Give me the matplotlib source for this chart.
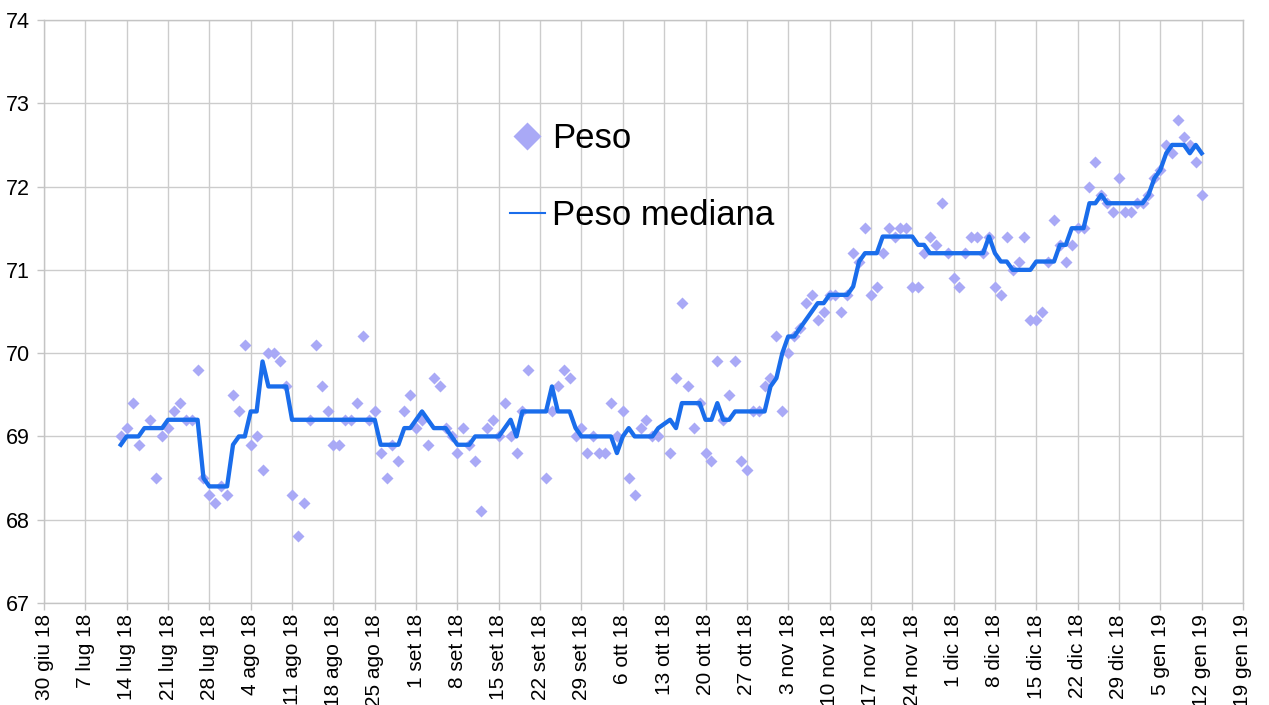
import numpy as np
import pandas as pd
import matplotlib
matplotlib.use("Agg")
import matplotlib.pyplot as plt

plt.rcParams['font.family'] = ['Liberation Sans', 'DejaVu Sans']

# daily values, 13 lug 2018 .. 12 gen 2019 (nan = no measurement)
nan = np.nan
peso = [
    69.0, 69.1, 69.4, 68.9, nan, 69.2, 68.5, 69.0, 69.1, 69.3,
    69.4, 69.2, 69.2, 69.8, 68.5, 68.3, 68.2, 68.4, 68.3, 69.5,
    69.3, 70.1, 68.9, 69.0, 68.6, 70.0, 70.0, 69.9, 69.6, 68.3,
    67.8, 68.2, 69.2, 70.1, 69.6, 69.3, 68.9, 68.9, 69.2, 69.2,
    69.4, 70.2, 69.2, 69.3, 68.8, 68.5, 68.9, 68.7, 69.3, 69.5,
    69.1, 69.2, 68.9, 69.7, 69.6, 69.1, 69.0, 68.8, 69.1, 68.9,
    68.7, 68.1, 69.1, 69.2, 69.0, 69.4, 69.0, 68.8, 69.3, 69.8,
    nan, nan, 68.5, 69.3, 69.6, 69.8, 69.7, 69.0, 69.1, 68.8,
    69.0, 68.8, 68.8, 69.4, 69.0, 69.3, 68.5, 68.3, 69.1, 69.2,
    69.0, 69.0, nan, 68.8, 69.7, 70.6, 69.6, 69.1, 69.4, 68.8,
    68.7, 69.9, 69.2, 69.5, 69.9, 68.7, 68.6, 69.3, 69.3, 69.6,
    69.7, 70.2, 69.3, 70.0, 70.2, 70.3, 70.6, 70.7, 70.4, 70.5,
    70.7, 70.7, 70.5, 70.7, 71.2, 71.1, 71.5, 70.7, 70.8, 71.2,
    71.5, 71.4, 71.5, 71.5, 70.8, 70.8, 71.2, 71.4, 71.3, 71.8,
    71.2, 70.9, 70.8, 71.2, 71.4, 71.4, 71.2, 71.4, 70.8, 70.7,
    71.4, 71.0, 71.1, 71.4, 70.4, 70.4, 70.5, 71.1, 71.6, 71.3,
    71.1, 71.3, 71.5, 71.5, 72.0, 72.3, 71.9, 71.8, 71.7, 72.1,
    71.7, 71.7, 71.8, 71.8, 71.9, 72.1, 72.2, 72.5, 72.4, 72.8,
    72.6, 72.5, 72.3, 71.9,
]
peso_mediana = [
    68.9, 69.0, 69.0, 69.0, 69.1, 69.1, 69.1, 69.1, 69.2, 69.2,
    69.2, 69.2, 69.2, 69.2, 68.5, 68.4, 68.4, 68.4, 68.4, 68.9,
    69.0, 69.0, 69.3, 69.3, 69.9, 69.6, 69.6, 69.6, 69.6, 69.2,
    69.2, 69.2, 69.2, 69.2, 69.2, 69.2, 69.2, 69.2, 69.2, 69.2,
    69.2, 69.2, 69.2, 69.2, 68.9, 68.9, 68.9, 68.9, 69.1, 69.1,
    69.2, 69.3, 69.2, 69.1, 69.1, 69.1, 69.0, 68.9, 68.9, 68.9,
    69.0, 69.0, 69.0, 69.0, 69.0, 69.1, 69.2, 69.0, 69.3, 69.3,
    69.3, 69.3, 69.3, 69.6, 69.3, 69.3, 69.3, 69.1, 69.0, 69.0,
    69.0, 69.0, 69.0, 69.0, 68.8, 69.0, 69.1, 69.0, 69.0, 69.0,
    69.0, 69.1, 69.15, 69.2, 69.1, 69.4, 69.4, 69.4, 69.4, 69.2,
    69.2, 69.4, 69.2, 69.2, 69.3, 69.3, 69.3, 69.3, 69.3, 69.3,
    69.6, 69.7, 70.0, 70.2, 70.2, 70.3, 70.4, 70.5, 70.6, 70.6,
    70.7, 70.7, 70.7, 70.7, 70.8, 71.1, 71.2, 71.2, 71.2, 71.4,
    71.4, 71.4, 71.4, 71.4, 71.4, 71.3, 71.3, 71.2, 71.2, 71.2,
    71.2, 71.2, 71.2, 71.2, 71.2, 71.2, 71.2, 71.4, 71.2, 71.1,
    71.1, 71.0, 71.0, 71.0, 71.0, 71.1, 71.1, 71.1, 71.1, 71.3,
    71.3, 71.5, 71.5, 71.5, 71.8, 71.8, 71.9, 71.8, 71.8, 71.8,
    71.8, 71.8, 71.8, 71.8, 71.9, 72.1, 72.2, 72.4, 72.5, 72.5,
    72.5, 72.4, 72.5, 72.4,
]
giorni = pd.date_range("2018-07-13", periods=len(peso), freq="D")

tick_date = pd.date_range("2018-06-30", "2019-01-19", freq="7D")
tick_labels = [
    "30 giu 18", "7 lug 18", "14 lug 18", "21 lug 18", "28 lug 18",
    "4 ago 18", "11 ago 18", "18 ago 18", "25 ago 18", "1 set 18",
    "8 set 18", "15 set 18", "22 set 18", "29 set 18", "6 ott 18",
    "13 ott 18", "20 ott 18", "27 ott 18", "3 nov 18", "10 nov 18",
    "17 nov 18", "24 nov 18", "1 dic 18", "8 dic 18", "15 dic 18",
    "22 dic 18", "29 dic 18", "5 gen 19", "12 gen 19", "19 gen 19",
]

fig = plt.figure(figsize=(12.69, 7.05), dpi=100)
ax = fig.add_axes([44 / 1269, 1 - 603 / 705, 1199 / 1269, 583 / 705])

ax.plot(giorni, peso, linestyle="none", marker="D", ms=6,
        color="#a9a9f6", mec="none", label="Peso", zorder=3)
ax.plot(giorni, peso_mediana, color="#1a6deb", lw=3.1,
        label="Peso mediana", zorder=4)

ax.set_xlim(tick_date[0], tick_date[-1])
ax.set_ylim(67, 74)
ax.set_xticks(tick_date)
ax.set_xticklabels(tick_labels, rotation=90, fontsize=15)
ax.set_yticks(range(67, 75))
ax.tick_params(axis="y", labelsize=15.5, pad=5)
ax.tick_params(axis="x", pad=3)
ax.tick_params(which="both", length=5, width=1, color="#c4c4c4")
ax.grid(True, color="#cccccc", linewidth=1)
ax.set_axisbelow(True)
for s in ax.spines.values():
    s.set_color("#c4c4c4")
    s.set_linewidth(1)

leg = ax.legend(loc="upper left", bbox_to_anchor=(510 / 1269, 1 - 122 / 705),
                bbox_transform=fig.transFigure, frameon=False, fontsize=25,
                markerscale=2.3, handlelength=1.0, handletextpad=0.2,
                labelspacing=1.27, borderpad=0, borderaxespad=0)
leg.get_lines()[1].set_linewidth(1.5)

fig.savefig("out.png", dpi=100)
